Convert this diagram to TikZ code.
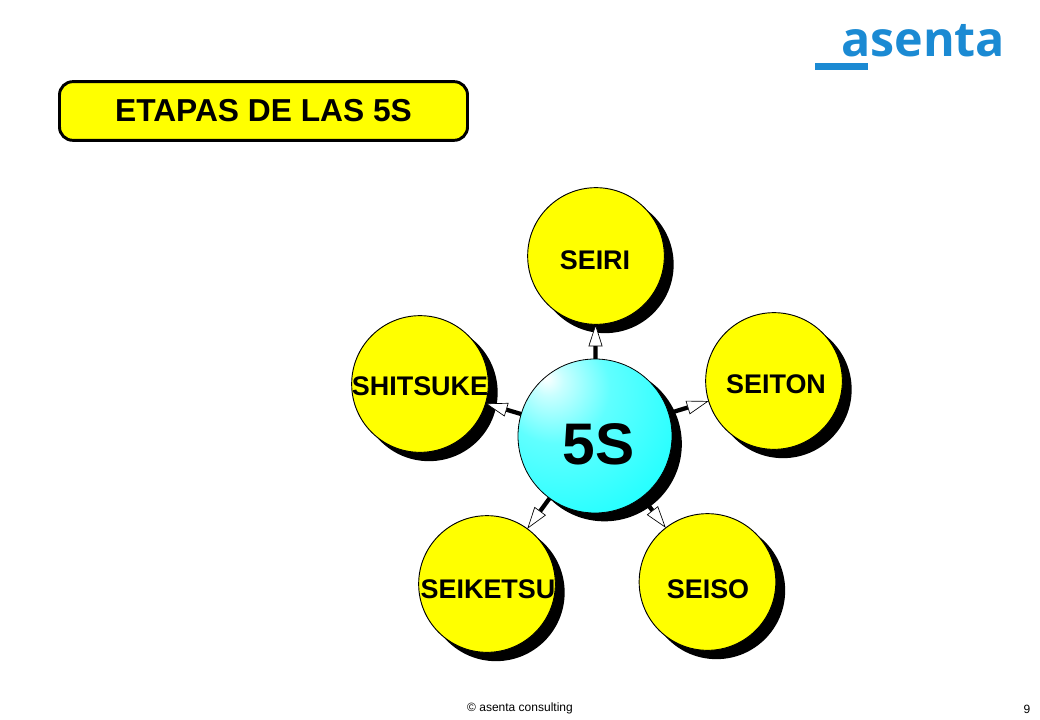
\documentclass[tikz,border=0pt]{standalone}
\usepackage{fontspec}
\setmainfont{Liberation Sans}
\newfontfamily\logofont{Open Sans}
\usetikzlibrary{arrows.meta}
\definecolor{logoblue}{HTML}{1B8AD3}
\definecolor{ballyellow}{HTML}{FFFF00}
\definecolor{spherecyan}{HTML}{00FFFF}
\definecolor{sphereA}{HTML}{C8FFFF}
\definecolor{sphereB}{HTML}{60FFFF}
\definecolor{sphereC}{HTML}{20FFFF}
\pgfdeclareradialshading{sphere}{\pgfpoint{-16bp}{19bp}}{color(0bp)=(white);color(5bp)=(sphereA);color(18bp)=(sphereB);color(42bp)=(sphereC);color(62bp)=(spherecyan);color(100bp)=(spherecyan)}
\tikzset{
  ball/.style={circle,draw=black,line width=0.7pt,fill=ballyellow,minimum size=102.5pt,inner sep=0pt,outer sep=0pt},
  ballshadow/.style={circle,fill=black,minimum size=103pt,inner sep=0pt,outer sep=0pt},
  core/.style={circle,draw=black,line width=0.6pt,shading=sphere,minimum size=115.5pt,inner sep=0pt,outer sep=0pt},
  coreshadow/.style={circle,fill=black,minimum size=116pt,inner sep=0pt,outer sep=0pt},
  link/.style={line width=3.2pt,-{Triangle[length=16.5pt,width=10.5pt,open,fill=white,line width=0.5pt]}},
  lbl/.style={font=\bfseries\fontsize{20.2}{22}\selectfont,text=black,inner sep=0pt},
}
\begin{document}
\begin{tikzpicture}[x=0.75pt,y=-0.75pt]
\useasboundingbox (0,0) rectangle (1040,720);
% logo
\node[text=logoblue,inner sep=0pt,anchor=base west,font=\logofont\bfseries\fontsize{36.3}{37}\selectfont] (logo) at (841,56.5) {asenta};
\fill[logoblue] (815,63) rectangle (868,70);
% title
\node[draw=black,line width=2.2pt,fill=ballyellow,rounded corners=10pt,minimum width=306pt,minimum height=44pt,inner sep=0pt,font=\bfseries\fontsize{23.8}{26}\selectfont] (title) at (263.5,111) {ETAPAS DE LAS 5S};
% shadows
\node[ballshadow] (s1) at (605,264.5) {};
\node[ballshadow] (s2) at (783,389.5) {};
\node[ballshadow] (s3) at (716.5,590.5) {};
\node[ballshadow] (s4) at (496,592.5) {};
\node[ballshadow] (s5) at (429,392.5) {};
% balls
\node[ball] (seiri) at (596,256) {};
\node[ball] (seiton) at (774,381) {};
\node[ball] (seiso) at (707.5,582) {};
\node[ball] (seiketsu) at (487,584) {};
\node[ball] (shitsuke) at (420,384) {};
% hub coordinate for connectors
\coordinate (hub) at (595,436);
\draw[link] (hub) -- (seiri);
\draw[link] (hub) -- (seiton);
\draw[link] (hub) -- (seiso);
\draw[link] (hub) -- (seiketsu);
\draw[link] (hub) -- (shitsuke);
% core
\node[coreshadow] (cs) at (604.5,444) {};
\node[core] (fives) at (hub) {};
% labels
\node[lbl] (t1) at (595,260) {SEIRI};
\node[lbl] (t2) at (776,384.5) {SEITON};
\node[lbl] (t3) at (708,589) {SEISO};
\node[lbl] (t4) at (488,589) {SEIKETSU};
\node[lbl] (t5) at (420,386) {SHITSUKE};
\node[font=\bfseries\fontsize{44}{48}\selectfont,inner sep=0pt] (t0) at (598.5,444) {5S};
% footer
\node[font=\fontsize{9}{11}\selectfont,inner sep=0pt] (foot) at (520,708.5) {© asenta consulting};
\node[font=\fontsize{9}{11}\selectfont,inner sep=0pt] (page) at (1027,709) {9};
\end{tikzpicture}
\end{document}
